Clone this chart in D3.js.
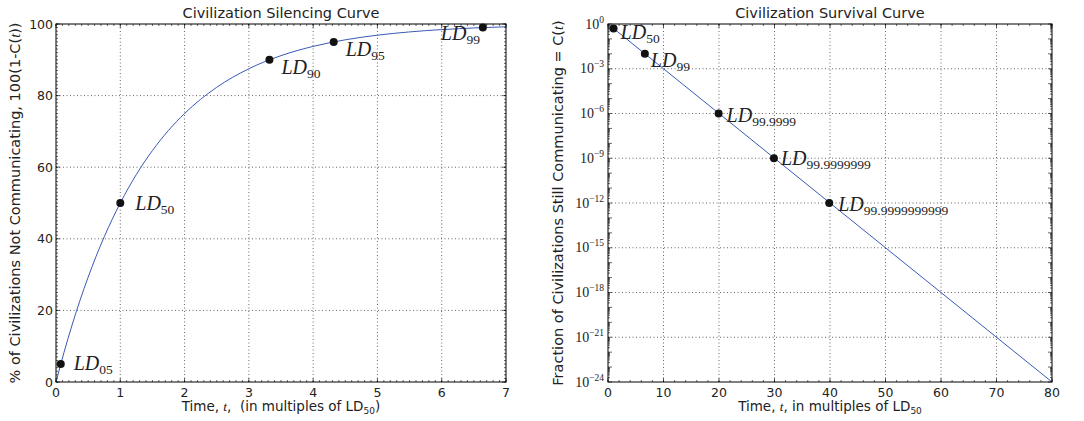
<!DOCTYPE html>
<html><head><meta charset="utf-8">
<script src="https://cdn.jsdelivr.net/npm/d3@7"></script>
<style>
body{margin:0;background:#fff;}
text{font-family:"DejaVu Sans",sans-serif;fill:#222;}
.serif{font-family:"Liberation Serif","DejaVu Serif",serif;}
</style></head><body>
<svg id="c" width="1084" height="421"></svg>
<script>
// ---- Data: left (silencing curve) ----
const leftCurveT = [0,0.125,0.25,0.375,0.5,0.625,0.75,0.875,1,1.25,1.5,1.75,2,2.5,3,3.5,4,4.5,5,5.5,6,6.5,7];
const leftCurveY = [0,8.30,15.91,22.89,29.29,35.16,40.54,45.47,50,57.96,64.64,70.27,75,82.32,87.5,91.16,93.75,95.58,96.88,97.79,98.44,98.90,99.22];
const leftPointT = [0.074,1,3.32,4.32,6.64];
const leftPointY = [5,50,90,95,99];
const leftPointSub = ["05","50","90","95","99"];
const leftXTicks = [0,1,2,3,4,5,6,7];
const leftYTicks = [0,20,40,60,80,100];
// ---- Data: right (survival curve) ----
const rightCurveT = [0,20,40,60,80];
const rightCurveC = [1,1e-6,1e-12,1e-18,1e-24];
const rightPointT = [1,6.64,19.93,29.9,39.86];
const rightPointC = [0.5,0.01,1e-6,1e-9,1e-12];
const rightPointSub = ["50","99","99.9999","99.9999999","99.9999999999"];
const rightXTicks = [0,10,20,30,40,50,60,70,80];
const rightYExp = [0,-3,-6,-9,-12,-15,-18,-21,-24];

const svg = d3.select("#c");
const yTop = 24, yBot = 382;
const lineColor = "#3a5ab4";

function frame(g, x0, x1){
  g.append("rect").attr("x",x0).attr("y",yTop).attr("width",x1-x0).attr("height",yBot-yTop)
   .attr("fill","none").attr("stroke","#000").attr("stroke-width",1);
}
function grid(g, xs, ys, x0, x1){
  xs.forEach(x=>g.append("line").attr("x1",x).attr("x2",x).attr("y1",yTop).attr("y2",yBot)
    .attr("stroke","#000").attr("stroke-width",0.6).attr("stroke-dasharray","1,2.5"));
  ys.forEach(y=>g.append("line").attr("x1",x0).attr("x2",x1).attr("y1",y).attr("y2",y)
    .attr("stroke","#000").attr("stroke-width",0.6).attr("stroke-dasharray","1,2.5"));
}
function ticks(g, xs, ys, x0, x1, len){
  xs.forEach(x=>{
    g.append("line").attr("x1",x).attr("x2",x).attr("y1",yBot).attr("y2",yBot-len).attr("stroke","#000").attr("stroke-width",0.6);
    g.append("line").attr("x1",x).attr("x2",x).attr("y1",yTop).attr("y2",yTop+len).attr("stroke","#000").attr("stroke-width",0.6);
  });
  ys.forEach(y=>{
    g.append("line").attr("x1",x0).attr("x2",x0+len).attr("y1",y).attr("y2",y).attr("stroke","#000").attr("stroke-width",0.6);
    g.append("line").attr("x1",x1).attr("x2",x1-len).attr("y1",y).attr("y2",y).attr("stroke","#000").attr("stroke-width",0.6);
  });
}
function ldLabel(g, x, y, sub){
  const t = g.append("text").attr("class","serif").attr("x",x).attr("y",y).attr("font-size",20).style("font-style","italic");
  t.append("tspan").text("LD");
  t.append("tspan").attr("dy",4).attr("font-size",13.5).style("font-style","normal").text(sub);
}

// ===== Left chart =====
{
  const x0 = 56, x1 = 506;
  const x = d3.scaleLinear().domain([0,7]).range([x0,x1]);
  const y = d3.scaleLinear().domain([0,100]).range([yBot,yTop]);
  const g = svg.append("g");
  grid(g, leftXTicks.slice(1,-1).map(x), leftYTicks.slice(1,-1).map(y), x0, x1);
  ticks(g, d3.range(0,7.001,0.1).map(x), d3.range(0,100.1,1).map(y), x0, x1, 2);
  ticks(g, leftXTicks.map(x), leftYTicks.map(y), x0, x1, 4);
  const line = d3.line().x((d,i)=>x(leftCurveT[i])).y((d,i)=>y(leftCurveY[i])).curve(d3.curveMonotoneX);
  g.append("path").datum(leftCurveT).attr("d",line).attr("fill","none").attr("stroke",lineColor).attr("stroke-width",1);
  frame(g, x0, x1);
  const offs = [[13,6],[15,7],[12,14],[12,14],[-42,12]];
  leftPointT.forEach((t,i)=>{
    g.append("circle").attr("cx",x(t)).attr("cy",y(leftPointY[i])).attr("r",4).attr("fill","#111");
    ldLabel(g, x(t)+offs[i][0], y(leftPointY[i])+offs[i][1], leftPointSub[i]);
  });
  leftXTicks.forEach(v=>g.append("text").attr("x",x(v)).attr("y",397).attr("text-anchor","middle").attr("font-size",12.5).text(v));
  leftYTicks.forEach(v=>g.append("text").attr("x",x0-3).attr("y",y(v)+4.5).attr("text-anchor","end").attr("font-size",12.5).text(v));
  g.append("text").attr("x",(x0+x1)/2).attr("y",18).attr("text-anchor","middle").attr("font-size",14.5).text("Civilization Silencing Curve");
  const xl = g.append("text").attr("x",(x0+x1)/2).attr("y",411).attr("text-anchor","middle").attr("font-size",13.5).attr("xml:space","preserve");
  xl.append("tspan").text("Time, ");
  xl.append("tspan").attr("class","serif").style("font-style","italic").text("t");
  xl.append("tspan").text(",  (in multiples of LD");
  xl.append("tspan").attr("dy",3).attr("font-size",9).text("50");
  xl.append("tspan").attr("dy",-3).text(")");
  const yl = g.append("text").attr("transform",`translate(20,${(yTop+yBot)/2}) rotate(-90)`).attr("text-anchor","middle").attr("font-size",14.5);
  yl.append("tspan").text("% of Civilizations Not Communicating, 100(1-C(");
  yl.append("tspan").attr("class","serif").style("font-style","italic").text("t");
  yl.append("tspan").text("))");
}

// ===== Right chart =====
{
  const x0 = 608, x1 = 1052;
  const x = d3.scaleLinear().domain([0,80]).range([x0,x1]);
  const y = d3.scaleLog().domain([1e-24,1]).range([yBot,yTop]);
  const g = svg.append("g");
  grid(g, rightXTicks.slice(1,-1).map(x), rightYExp.slice(1,-1).map(e=>y(Math.pow(10,e))), x0, x1);
  const minorY = [];
  for(let k=-24;k<0;k++) for(let m=2;m<10;m++) minorY.push(y(m*Math.pow(10,k)));
  ticks(g, d3.range(0,80.1,2).map(x), minorY, x0, x1, 2);
  ticks(g, rightXTicks.map(x), d3.range(-24,1,1).map(e=>y(Math.pow(10,e))), x0, x1, 4);
  const line = d3.line().x((d,i)=>x(rightCurveT[i])).y((d,i)=>y(rightCurveC[i]));
  g.append("path").datum(rightCurveT).attr("d",line).attr("fill","none").attr("stroke",lineColor).attr("stroke-width",1);
  frame(g, x0, x1);
  const offs = [[7,11],[6,13],[8,8],[7,7],[9,8]];
  rightPointT.forEach((t,i)=>{
    g.append("circle").attr("cx",x(t)).attr("cy",y(rightPointC[i])).attr("r",4).attr("fill","#111");
    ldLabel(g, x(t)+offs[i][0], y(rightPointC[i])+offs[i][1], rightPointSub[i]);
  });
  rightXTicks.forEach(v=>g.append("text").attr("x",x(v)).attr("y",397).attr("text-anchor","middle").attr("font-size",12.5).text(v));
  rightYExp.forEach(e=>{
    const t = g.append("text").attr("class","serif").attr("x",x0-4).attr("y",y(Math.pow(10,e))+4.5).attr("text-anchor","end").attr("font-size",14);
    t.append("tspan").text("10");
    t.append("tspan").attr("dy",-6).attr("font-size",9.5).text(e===0?"0":"\u2212"+(-e));
  });
  g.append("text").attr("x",(x0+x1)/2).attr("y",18).attr("text-anchor","middle").attr("font-size",14.5).text("Civilization Survival Curve");
  const xl = g.append("text").attr("x",(x0+x1)/2).attr("y",411).attr("text-anchor","middle").attr("font-size",13.5);
  xl.append("tspan").text("Time, ");
  xl.append("tspan").attr("class","serif").style("font-style","italic").text("t");
  xl.append("tspan").text(", in multiples of LD");
  xl.append("tspan").attr("dy",3).attr("font-size",9).text("50");
  const yl = g.append("text").attr("transform",`translate(563,${(yTop+yBot)/2}) rotate(-90)`).attr("text-anchor","middle").attr("font-size",14.5);
  yl.append("tspan").text("Fraction of Civilizations Still Communicating = C(");
  yl.append("tspan").attr("class","serif").style("font-style","italic").text("t");
  yl.append("tspan").text(")");
}
</script></body></html>
